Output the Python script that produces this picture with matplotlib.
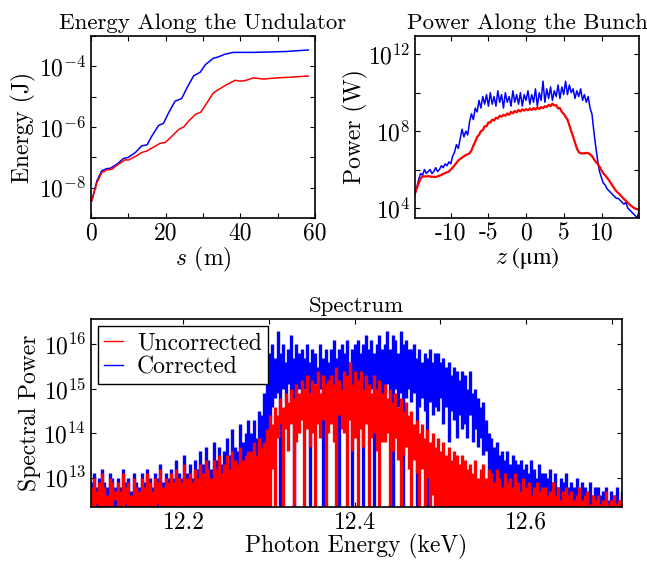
import numpy as np
import matplotlib
matplotlib.use('Agg')
import matplotlib.pyplot as plt
from matplotlib.lines import Line2D

plt.rcParams['font.family'] = ['cmr10', 'DejaVu Serif']
plt.rcParams['mathtext.fontset'] = 'cm'
plt.rcParams['axes.formatter.use_mathtext'] = True
plt.rcParams['axes.unicode_minus'] = False
plt.rcParams['font.size'] = 17

## energy along the undulator (log10 of J)
s_corr = [0.2, 1.6, 2.9, 4.3, 5.2, 7, 8.7, 10, 11.9, 13.6, 15, 16.3, 18.1, 19.4, 20.8,
          22.5, 24.3, 25.7, 27.5, 29.2, 30.6, 32.8, 34.1, 35.9, 38.1, 43.5, 47, 52.4, 58.2]
e_corr = [-8.43, -7.77, -7.44, -7.37, -7.36, -7.22, -7.04, -7.0, -6.84, -6.62, -6.59, -6.30,
          -5.95, -5.88, -5.53, -5.15, -5.06, -4.71, -4.31, -4.20, -3.95, -3.73, -3.69, -3.60,
          -3.54, -3.54, -3.53, -3.51, -3.46]
s_unc = [0.2, 1.6, 2.9, 4.3, 5.6, 7.4, 9.2, 10, 11.9, 13.6, 15, 16.8, 18.5, 19.9, 21.7, 23.5,
         24.8, 26.2, 28, 29.4, 30.6, 32.8, 34.1, 36.4, 38.6, 40, 41.3, 43.5, 46.2, 49.8, 53.3, 58.2]
e_unc = [-8.43, -7.83, -7.50, -7.41, -7.39, -7.22, -7.08, -7.09, -6.97, -6.84, -6.79, -6.66,
         -6.54, -6.51, -6.30, -6.08, -6.0, -5.80, -5.58, -5.51, -5.29, -4.87, -4.77, -4.60,
         -4.46, -4.49, -4.47, -4.38, -4.42, -4.38, -4.36, -4.32]

## power along the bunch (log10 of W), sampled on a uniform z grid
z_range = (-14.7, 14.9)
p_corr = [4.7, 5.1, 5.5, 5.8, 5.7, 6.0, 5.8, 5.9, 6.0, 5.8,
          5.9, 6.1, 5.9, 6.0, 6.2, 6.1, 6.3, 6.2, 6.4, 6.3,
          6.7, 6.9, 7.3, 7.1, 7.6, 8.1, 7.7, 8.0, 7.8, 8.5,
          8.9, 8.6, 9.2, 9.0, 9.6, 9.2, 9.8, 9.4, 9.9, 9.3,
          10.0, 9.4, 9.8, 9.3, 10.1, 9.5, 9.9, 9.2, 10.0, 9.5,
          9.8, 9.3, 10.1, 9.5, 9.9, 9.4, 10.0, 9.3, 9.9, 9.6,
          10.1, 9.4, 9.9, 9.5, 10.2, 9.3, 10.0, 9.6, 10.6, 9.5,
          10.2, 9.7, 10.3, 9.6, 10.1, 9.8, 10.4, 9.7, 10.3, 9.9,
          10.6, 9.9, 10.4, 10.0, 10.2, 9.7, 10.1, 9.8, 10.2, 9.6,
          9.9, 9.5, 9.8, 9.2, 8.9, 8.0, 7.2, 6.5, 5.9, 5.6,
          5.3, 5.2, 5.0, 4.9, 4.8, 4.7, 4.6, 4.5, 4.5, 4.4,
          4.3, 4.2, 4.3, 4.0, 3.9, 3.8, 3.7, 3.6, 3.5, 3.8]
p_unc = [4.77, 5.05, 5.3, 5.55, 5.63, 5.65, 5.64, 5.66, 5.64, 5.62,
         5.63, 5.61, 5.65, 5.68, 5.72, 5.78, 5.82, 5.86, 5.9, 6.0,
         6.1, 6.22, 6.35, 6.48, 6.55, 6.62, 6.7, 6.75, 6.8, 6.85,
         7.0, 7.25, 7.45, 7.7, 7.8, 8.0, 8.05, 8.25, 8.25, 8.45,
         8.45, 8.6, 8.55, 8.7, 8.65, 8.8, 8.75, 8.85, 8.8, 8.92,
         8.85, 9.0, 8.93, 9.05, 8.98, 9.1, 9.02, 9.13, 9.06, 9.15,
         9.08, 9.18, 9.1, 9.2, 9.12, 9.23, 9.15, 9.25, 9.2, 9.3,
         9.25, 9.37, 9.3, 9.43, 9.33, 9.35, 9.18, 9.2, 9.0, 8.9,
         8.75, 8.6, 8.3, 8.0, 7.72, 7.4, 7.1, 6.9, 6.85, 6.84,
         6.85, 6.87, 6.85, 6.8, 6.7, 6.55, 6.4, 6.3, 6.15, 5.97,
         5.81, 5.7, 5.58, 5.45, 5.3, 5.15, 5.0, 4.87, 4.78, 4.68,
         4.57, 4.47, 4.38, 4.28, 4.18, 4.1, 4.03, 3.97, 3.94, 3.9]

## spectrum (log10 of spectral power): the trace is far denser than the pixels,
## so it is kept as the max / min reached inside each narrow photon-energy bin
ev_range = (12.092, 12.712)
unc_hi = [12.8, 13.0, 12.7, 12.9, 13.1, 12.8, 12.6, 13.0, 12.9, 12.7,
          12.9, 12.7, 13.1, 12.8, 12.9, 12.6, 13.0, 12.8, 12.7, 13.0,
          12.8, 13.1, 12.9, 12.7, 13.0, 12.9, 13.2, 12.8, 13.0, 12.9,
          13.1, 12.9, 13.2, 13.0, 12.9, 13.3, 13.0, 13.1, 12.9, 13.2,
          13.0, 13.3, 13.1, 13.4, 13.2, 13.0, 13.4, 13.2, 13.5, 13.1,
          13.3, 13.5, 13.2, 13.6, 13.4, 13.3, 13.7, 13.4, 13.5, 13.6,
          13.6, 13.8, 13.5, 13.9, 13.7, 13.8, 14.1, 14.4, 14.2, 14.6,
          14.4, 14.8, 14.6, 14.9, 14.7, 15.0, 14.8, 15.1, 14.9, 15.2,
          15.0, 15.3, 14.9, 15.2, 15.1, 15.4, 14.9, 15.3, 15.1, 15.2,
          15.3, 15.1, 15.5, 15.2, 15.0, 15.4, 15.3, 15.6, 15.1, 15.4,
          15.2, 15.4, 15.0, 15.3, 15.1, 14.9, 15.3, 15.0, 15.2, 14.9,
          15.1, 14.8, 15.0, 14.7, 14.9, 14.6, 14.8, 14.5, 14.7, 14.4,
          14.5, 14.2, 14.3, 14.0, 14.2, 13.9, 14.1, 13.8, 14.0, 13.7,
          13.9, 13.6, 13.8, 13.5, 13.7, 13.4, 13.6, 13.5, 13.3, 13.5,
          13.4, 13.2, 13.3, 13.1, 13.4, 13.0, 13.2, 13.3, 13.0, 13.2,
          13.1, 12.9, 13.2, 13.0, 12.8, 13.1, 12.9, 13.0, 12.8, 13.1,
          12.9, 12.7, 13.0, 12.8, 12.9, 12.6, 12.8, 12.9, 12.7, 12.8,
          12.8, 12.6, 12.7, 12.9, 12.6, 12.8, 12.5, 12.7, 12.8, 12.6,
          12.7, 12.5, 12.6, 12.8, 12.5, 12.6, 12.7, 12.4, 12.6, 12.5,
          12.6, 12.4, 12.5, 12.7, 12.4, 12.5, 12.6, 12.4, 12.5, 12.6]
unc_lo = [12.0, 12.0, 12.4, 12.0, 12.0, 12.3, 12.0, 12.0, 12.0, 12.5,
          12.0, 12.0, 12.0, 12.4, 12.0, 12.0, 12.0, 12.0, 12.3, 12.0,
          12.0, 12.0, 12.0, 12.0, 12.0, 12.4, 12.0, 12.0, 12.0, 12.0,
          12.0, 12.0, 12.0, 12.0, 12.0, 12.0, 12.0, 12.0, 12.0, 12.0,
          12.0, 12.0, 12.0, 12.0, 12.0, 12.0, 12.0, 12.0, 12.0, 12.0,
          12.0, 12.0, 12.0, 12.0, 12.0, 12.0, 12.0, 12.0, 12.0, 12.0,
          12.0, 12.0, 12.0, 12.0, 12.0, 12.0, 12.0, 12.0, 13.2, 12.0,
          13.9, 14.2, 12.0, 14.1, 13.6, 14.2, 12.0, 13.8, 14.0, 14.3,
          12.0, 14.1, 13.7, 14.0, 12.0, 14.2, 13.9, 14.3, 12.0, 14.0,
          14.2, 13.8, 12.0, 14.4, 14.1, 14.0, 12.0, 14.3, 13.6, 13.9,
          12.0, 14.1, 13.7, 14.2, 12.0, 13.9, 14.0, 13.6, 12.0, 13.8,
          13.8, 14.0, 12.0, 13.6, 13.9, 13.4, 12.0, 13.5, 13.7, 13.2,
          12.0, 13.4, 13.1, 12.0, 13.2, 12.0, 13.0, 12.0, 12.6, 12.0,
          12.0, 12.0, 12.0, 12.0, 12.0, 12.0, 12.0, 12.0, 12.0, 12.0,
          12.0, 12.0, 12.0, 12.0, 12.0, 12.0, 12.0, 12.0, 12.0, 12.0,
          12.0, 12.0, 12.0, 12.0, 12.0, 12.0, 12.0, 12.0, 12.0, 12.0,
          12.0, 12.0, 12.0, 12.0, 12.0, 12.0, 12.0, 12.0, 12.0, 12.0,
          12.0, 12.0, 12.0, 12.0, 12.0, 12.0, 12.0, 12.0, 12.0, 12.0,
          12.0, 12.0, 12.0, 12.0, 12.0, 12.0, 12.0, 12.0, 12.0, 12.0,
          12.0, 12.0, 12.0, 12.0, 12.0, 12.0, 12.0, 12.0, 12.0, 12.0]
corr_hi = [12.9, 13.1, 12.8, 13.0, 13.2, 12.9, 12.8, 13.1, 13.0, 12.8,
           13.0, 12.8, 13.2, 12.9, 13.0, 12.7, 13.1, 12.9, 12.8, 13.1,
           12.9, 13.2, 13.0, 12.8, 13.1, 13.0, 13.3, 12.9, 13.1, 13.0,
           13.2, 13.0, 13.4, 13.1, 13.0, 13.5, 13.1, 13.3, 13.0, 13.4,
           13.2, 13.6, 13.3, 13.7, 13.4, 13.2, 13.8, 13.4, 13.7, 13.3,
           13.6, 13.9, 13.5, 14.1, 13.7, 13.6, 14.2, 13.8, 14.0, 14.3,
           14.0, 14.3, 13.9, 14.5, 14.4, 14.9, 15.3, 15.8, 16.0, 15.7,
           16.3, 15.8, 16.0, 15.6, 15.9, 16.2, 15.7, 16.0, 15.8, 15.9,
           15.7, 16.0, 15.6, 15.9, 15.8, 15.5, 16.0, 15.7, 15.9, 15.6,
           15.9, 16.1, 15.7, 15.9, 16.0, 15.8, 16.1, 15.6, 15.9, 16.0,
           16.1, 15.8, 16.0, 16.2, 15.9, 16.1, 15.8, 16.0, 16.2, 15.9,
           16.0, 16.3, 15.9, 16.2, 16.1, 15.8, 16.3, 16.0, 16.1, 15.9,
           15.9, 16.0, 15.7, 15.9, 15.6, 15.8, 15.7, 15.9, 15.6, 15.8,
           15.8, 15.6, 15.7, 15.5, 15.6, 15.3, 15.5, 15.4, 15.2, 15.4,
           15.3, 15.0, 15.4, 14.9, 15.0, 14.8, 14.6, 14.7, 14.3, 14.0,
           13.9, 13.7, 13.8, 13.5, 13.6, 13.4, 13.6, 13.3, 13.5, 13.4,
           13.3, 13.4, 13.2, 13.3, 13.1, 13.4, 13.2, 13.0, 13.3, 13.1,
           13.1, 13.0, 13.2, 12.9, 13.1, 12.8, 13.0, 12.9, 13.1, 12.8,
           12.9, 12.8, 13.0, 12.7, 12.9, 12.8, 12.7, 12.9, 12.6, 12.8,
           12.8, 12.6, 12.7, 12.8, 12.5, 12.7, 12.6, 12.8, 12.5, 12.7]
corr_lo = [12.0, 12.0, 12.0, 12.0, 12.0, 12.0, 12.0, 12.0, 12.0, 12.0,
           12.0, 12.0, 12.0, 12.0, 12.0, 12.0, 12.0, 12.0, 12.0, 12.0,
           12.0, 12.0, 12.0, 12.0, 12.0, 12.0, 12.0, 12.0, 12.0, 12.0,
           12.0, 12.0, 12.0, 12.0, 12.0, 12.0, 12.0, 12.0, 12.0, 12.0,
           12.0, 12.0, 12.0, 12.0, 12.0, 12.0, 12.0, 12.0, 12.0, 12.0,
           12.0, 12.0, 12.0, 12.0, 12.0, 12.0, 12.0, 12.0, 12.0, 12.0,
           12.0, 12.0, 12.0, 12.0, 12.0, 13.2, 13.8, 14.3, 14.6, 14.8,
           14.9, 12.0, 15.0, 14.7, 15.1, 14.6, 12.0, 14.9, 15.0, 14.8,
           15.0, 14.6, 12.0, 14.9, 15.1, 14.7, 15.0, 12.0, 14.8, 15.0,
           14.7, 15.0, 14.8, 12.0, 14.9, 15.1, 14.6, 15.0, 12.0, 14.9,
           15.0, 14.8, 12.0, 15.1, 14.9, 15.0, 12.0, 14.7, 15.0, 14.8,
           14.9, 15.1, 14.7, 12.0, 15.0, 14.6, 14.9, 12.0, 14.8, 15.0,
           14.7, 14.9, 12.0, 14.6, 14.8, 14.5, 12.0, 14.7, 14.4, 14.6,
           14.5, 14.8, 14.2, 14.6, 13.8, 14.5, 14.3, 13.9, 14.4, 14.1,
           14.2, 13.9, 14.4, 13.8, 14.1, 13.7, 13.9, 13.5, 13.6, 12.0,
           12.0, 12.0, 12.0, 12.0, 12.0, 12.0, 12.0, 12.0, 12.0, 12.0,
           12.0, 12.0, 12.0, 12.0, 12.0, 12.0, 12.0, 12.0, 12.0, 12.0,
           12.0, 12.0, 12.0, 12.0, 12.0, 12.0, 12.0, 12.0, 12.0, 12.0,
           12.0, 12.0, 12.0, 12.0, 12.0, 12.0, 12.0, 12.0, 12.0, 12.0,
           12.0, 12.0, 12.0, 12.0, 12.0, 12.0, 12.0, 12.0, 12.0, 12.0]

W, H = 647, 561
fig = plt.figure(figsize=(W / 100, H / 100), dpi=100)


def box_axes(x0, y0, x1, y1):
    # pixel box (left, top, right, bottom) -> figure fraction axes
    ax = fig.add_axes([x0 / W, 1 - y1 / H, (x1 - x0) / W, (y1 - y0) / H])
    ax.tick_params(which='both', direction='in', top=True, right=True, length=3.5, width=0.8)
    ax.tick_params(which='minor', length=2)
    for sp in ax.spines.values():
        sp.set_linewidth(1.2)
    return ax


def log_labels(ax, decades, labelled):
    ax.yaxis.set_major_locator(matplotlib.ticker.FixedLocator([10.0 ** d for d in decades]))
    ax.yaxis.set_major_formatter(matplotlib.ticker.FixedFormatter(
        [r'$10^{%d}$' % d if d in labelled else '' for d in decades]))
    ax.yaxis.set_minor_locator(matplotlib.ticker.NullLocator())


# Energy along the undulator
ax1 = box_axes(91, 36, 315, 218)
ax1.semilogy(s_corr, 10.0 ** np.array(e_corr), color='blue', lw=1.1)
ax1.semilogy(s_unc, 10.0 ** np.array(e_unc), color='red', lw=1.1)
ax1.set_xlim(0, 60)
ax1.set_ylim(1e-9, 1e-3)
log_labels(ax1, range(-9, -2), [-8, -6, -4])
ax1.set_xticks(range(0, 61, 10))
ax1.set_xticklabels(['0', '', '20', '', '40', '', '60'])
ax1.set_xlabel('$s$ (m)', labelpad=0)
ax1.set_ylabel('Energy (J)', labelpad=2)
ax1.set_title('Energy Along the Undulator', fontsize=16.5, pad=5)

# Power along the bunch
ax2 = box_axes(415, 36, 639, 218)
z_corr = np.linspace(z_range[0], z_range[1], len(p_corr))
z_unc = np.linspace(z_range[0], z_range[1], len(p_unc))
ax2.semilogy(z_corr, 10.0 ** np.array(p_corr), color='blue', lw=1.1)
ax2.semilogy(z_unc, 10.0 ** np.array(p_unc), color='red', lw=1.6)
ax2.set_xlim(z_range)
ax2.set_ylim(10 ** 3.48, 10 ** 12.95)
log_labels(ax2, [4, 6, 8, 10, 12], [4, 8, 12])
ax2.set_xticks([-10, -5, 0, 5, 10])
ax2.set_xticklabels(['-10', '-5', '0', '5', '10'])
# cmr10 has no usable micro sign, so this label uses STIX (serif, upright mu)
ax2.set_xlabel('$z$ (\u03bcm)', labelpad=0, family='STIXGeneral')
ax2.set_ylabel('Power (W)', labelpad=0)
ax2.set_title('Power Along the Bunch', fontsize=16.5, pad=5)

# Spectrum: one vertical stroke per bin, from bin min to bin max
ax3 = box_axes(91, 319, 622, 507)
ev_c = np.linspace(ev_range[0], ev_range[1], len(corr_hi))
ev_u = np.linspace(ev_range[0], ev_range[1], len(unc_hi))
ax3.set_yscale('log')
ax3.vlines(ev_c, 10.0 ** np.array(corr_lo), 10.0 ** np.array(corr_hi), color='blue', lw=2.4)
ax3.vlines(ev_u, 10.0 ** np.array(unc_lo), 10.0 ** np.array(unc_hi), color='red', lw=2.4)
ax3.set_xlim(ev_range)
ax3.set_ylim(10 ** 12.34, 10 ** 16.57)
ax3.yaxis.set_major_locator(matplotlib.ticker.FixedLocator([1e13, 1e14, 1e15, 1e16]))
ax3.yaxis.set_major_formatter(matplotlib.ticker.LogFormatterMathtext())
ax3.yaxis.set_minor_locator(matplotlib.ticker.LogLocator(subs=np.arange(2, 10)))
ax3.yaxis.set_minor_formatter(matplotlib.ticker.NullFormatter())
ax3.set_xticks([12.2, 12.3, 12.4, 12.5, 12.6, 12.7])
ax3.set_xticklabels(['12.2', '', '12.4', '', '12.6', ''])
ax3.set_xlabel('Photon Energy (keV)', labelpad=0)
ax3.set_ylabel('Spectral Power', labelpad=2)
ax3.set_title('Spectrum', fontsize=16.5, pad=5)
handles = [Line2D([], [], color='red', lw=1.0), Line2D([], [], color='blue', lw=1.0)]
leg = ax3.legend(handles, ['Uncorrected', 'Corrected'], loc='upper left', fancybox=False,
                 framealpha=1, edgecolor='black', handlelength=0.8, handletextpad=0.6,
                 borderpad=0.25, labelspacing=0.1, borderaxespad=0.3, fontsize=17)
leg.get_frame().set_linewidth(1.0)

fig.savefig('out.png', dpi=100)
